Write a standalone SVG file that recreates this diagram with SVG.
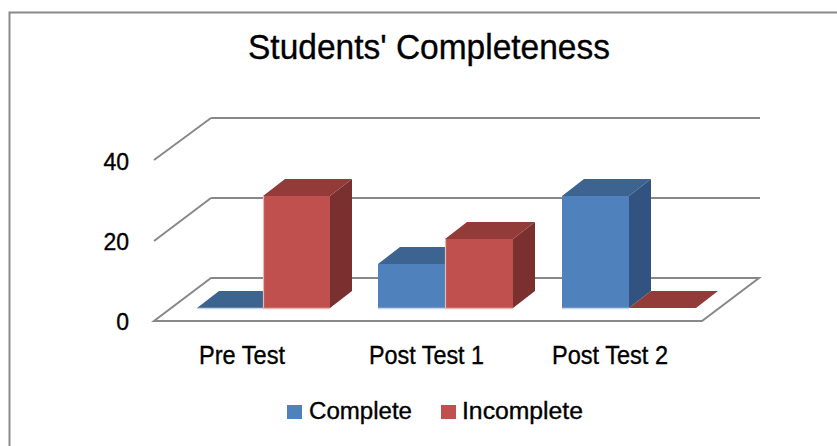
<svg xmlns="http://www.w3.org/2000/svg" width="837" height="446" viewBox="0 0 837 446">
<style>
.grid{stroke:#888888;stroke-width:2;fill:none;}
.txt{font-family:"Liberation Sans",Arial,sans-serif;fill:#000000;stroke:#000000;stroke-width:0.35;}
.bf{fill:#4F81BD;} .bt{fill:#3D6390;} .bs{fill:#32527F;}
.rf{fill:#C0504D;} .rt{fill:#933B39;} .rs{fill:#7A302F;}
</style>
<rect x="0" y="0" width="837" height="446" fill="#FFFFFF"/>
<rect id="frame" x="9.5" y="12.5" width="840" height="445" fill="none" stroke="#8a8a8a" stroke-width="2"/>
<text id="title" class="txt" x="429" y="59" font-size="35" text-anchor="middle" textLength="362" lengthAdjust="spacingAndGlyphs">Students' Completeness</text>
<g id="gridlines">
  <polygon points="154,321 702,321 759,278 211,278" fill="#FFFFFF" class="grid"/>
  <line class="grid" x1="211" y1="118" x2="760" y2="118"/>
  <line class="grid" x1="211" y1="198" x2="760" y2="198"/>
  <line class="grid" x1="154" y1="160" x2="211" y2="118"/>
  <line class="grid" x1="154" y1="241" x2="211" y2="198"/>
</g>
<g id="axis-labels" class="txt" font-size="23">
  <text x="129" y="170" text-anchor="end">40</text>
  <text x="129" y="250" text-anchor="end">20</text>
  <text x="129" y="330" text-anchor="end">0</text>
</g>
<g id="bar-pre-complete">
  <polygon class="bt" points="197,308 263,308 285,291 219,291"/>
  <line x1="197" y1="308.5" x2="263" y2="308.5" stroke="#C9D7EA" stroke-width="1.5"/>
</g>
<g id="bar-pre-incomplete">
  <polygon class="rs" points="330,196 352,179 352,291 330,308"/>
  <polygon class="rt" points="263,196 330,196 352,179 285,179"/>
  <rect class="rf" x="263" y="196" width="67" height="112"/>
  <line x1="263.5" y1="196" x2="263.5" y2="308" stroke="#E6B9B8" stroke-width="1.2"/>
  <line x1="263" y1="308.5" x2="330" y2="308.5" stroke="#E6B9B8" stroke-width="1.5"/>
</g>
<g id="bar-post1-complete">
  <polygon class="bs" points="445,264 467,247 467,291 445,308"/>
  <polygon class="bt" points="378,264 445,264 467,247 400,247"/>
  <rect class="bf" x="378" y="264" width="67" height="44"/>
  <line x1="378" y1="308.5" x2="445" y2="308.5" stroke="#C9D7EA" stroke-width="1.5"/>
</g>
<g id="bar-post1-incomplete">
  <polygon class="rs" points="513,239 535,222 535,291 513,308"/>
  <polygon class="rt" points="445,239 513,239 535,222 467,222"/>
  <rect class="rf" x="445" y="239" width="68" height="69"/>
  <line x1="445.5" y1="239" x2="445.5" y2="308" stroke="#E6B9B8" stroke-width="1.2"/>
  <line x1="445" y1="308.5" x2="513" y2="308.5" stroke="#E6B9B8" stroke-width="1.5"/>
</g>
<g id="bar-post2-complete">
  <polygon class="bs" points="629,196 651,179 651,291 629,308"/>
  <polygon class="bt" points="562,196 629,196 651,179 584,179"/>
  <rect class="bf" x="562" y="196" width="67" height="112"/>
  <line x1="562" y1="308.5" x2="629" y2="308.5" stroke="#C9D7EA" stroke-width="1.5"/>
</g>
<g id="bar-post2-incomplete">
  <polygon class="rt" points="629,308 696,308 718,291 651,291"/>
</g>
<g id="category-labels" class="txt" font-size="25">
  <text x="242" y="364" text-anchor="middle" textLength="86" lengthAdjust="spacingAndGlyphs">Pre Test</text>
  <text x="426.5" y="364" text-anchor="middle" textLength="115" lengthAdjust="spacingAndGlyphs">Post Test 1</text>
  <text x="610" y="364" text-anchor="middle" textLength="116" lengthAdjust="spacingAndGlyphs">Post Test 2</text>
</g>
<g id="legend">
  <rect x="287" y="405" width="15" height="14" fill="#4F81BD"/>
  <text class="txt" x="309" y="419" font-size="23" textLength="103" lengthAdjust="spacingAndGlyphs">Complete</text>
  <rect x="441" y="405" width="15" height="14" fill="#C0504D"/>
  <text class="txt" x="462" y="419" font-size="23" textLength="121" lengthAdjust="spacingAndGlyphs">Incomplete</text>
</g>
</svg>
